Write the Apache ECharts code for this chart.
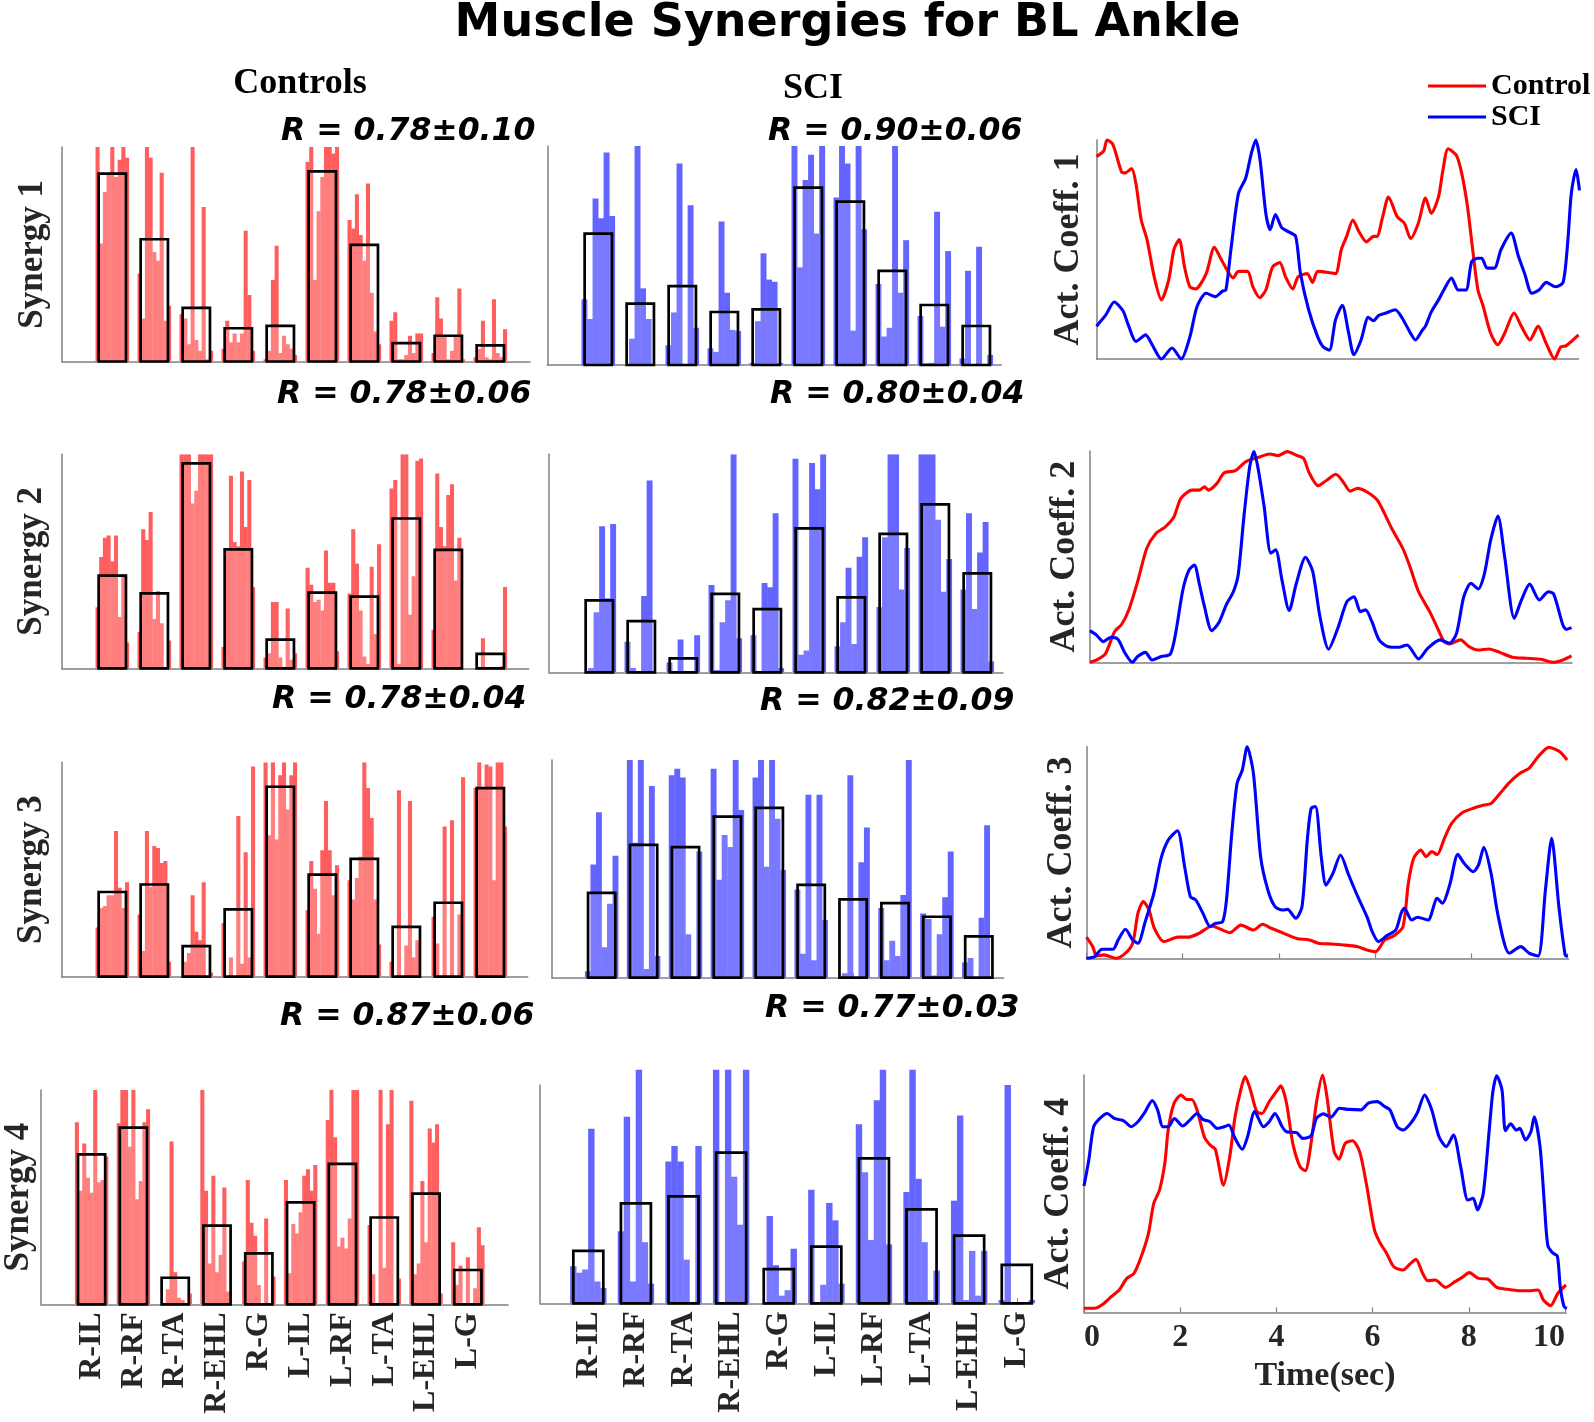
<!DOCTYPE html>
<html><head><meta charset="utf-8">
<script src="https://cdn.jsdelivr.net/npm/echarts@6/dist/echarts.min.js"></script>
<style>html,body{margin:0;padding:0;background:#fff}#c{width:1594px;height:1422px}</style>
</head><body><div id="c"></div>
<script>
// ---------------- DATA ----------------
const muscles = ['R-IL','R-RF','R-TA','R-EHL','R-G','L-IL','L-RF','L-TA','L-EHL','L-G'];
const timeTicks = [0,2,4,6,8,10];

// Synergy weights: per muscle, one value per subject (Controls: 9 subjects, SCI: 6 subjects)
const ctrlSyn1 = [
 [1.0,0.55,0.79,0.88,1.0,0.86,0.94,1.0,0.95],
 [0.41,0.20,1.0,0.95,0.51,0.47,0.88,0.19,0.26],
 [0.22,0.20,0.08,1.0,0.10,0.05,0.72,0.01,0.05],
 [0.06,0.19,0.09,0.13,0.09,0.13,0.61,0.31,0.05],
 [0.01,0.05,0.38,0.54,0.04,0.12,0.08,0.06,0.03],
 [0.93,1.0,0.38,0.70,0.86,1.0,1.0,0.97,1.0],
 [0.66,0.62,0.78,0.59,0.47,0.83,0.32,0.14,0.08],
 [0.19,0.23,0.01,0.01,0.03,0.12,0.04,0.13,0.13],
 [0.04,0.30,0.20,0.12,0.01,0.05,0.12,0.34,0.01],
 [0.02,0.06,0.19,0.02,0.01,0.29,0.04,0.02,0.15]
];
const ctrlMean1 = [0.876,0.57,0.25,0.155,0.166,0.886,0.544,0.086,0.12,0.075];
const sciSyn1 = [
 [0.30,0.21,0.76,0.67,0.97,0.68],
 [0.0,0.12,1.0,0.35,0.21,0.0],
 [0.09,0.24,0.92,0.0,0.73,0.17],
 [0.076,0.06,0.655,0.33,0.16,0.155],
 [0.01,0.20,0.51,0.39,0.38,0.01],
 [1.0,0.446,0.845,0.96,0.60,1.0],
 [0.765,1.0,0.92,0.157,1.0,0.62],
 [0.37,0.13,0.17,1.0,0.33,0.57],
 [0.224,0.008,0.01,0.70,0.175,0.52],
 [0.03,0.43,0.0,0.54,0.0,0.046]
];
const sciMean1 = [0.60,0.28,0.36,0.242,0.254,0.81,0.746,0.43,0.274,0.178];

const ctrlSyn2 = [
 [0.285,0.52,0.61,0.62,0.50,0.62,0.24,0.44,0.12],
 [0.17,0.65,0.60,0.73,0.23,0.36,0.21,0.0,0.13],
 [1.0,1.0,1.0,0.77,0.83,1.0,1.0,1.0,1.0],
 [0.10,0.55,0.90,0.59,0.57,0.92,0.66,0.88,0.38],
 [0.05,0.07,0.31,0.31,0.05,0.0,0.28,0.04,0.07],
 [0.47,0.39,0.31,0.32,0.27,0.55,0.40,0.40,0.08],
 [0.35,0.65,0.49,0.27,0.055,0.02,0.475,0.16,0.58],
 [0.84,0.88,0.02,1.0,1.0,0.25,0.43,0.97,0.98],
 [0.18,0.91,0.66,0.57,0.81,0.86,0.41,0.61,0.0],
 [0.0,0.0,0.14,0.0,0.0,0.0,0.0,0.01,0.38]
];
const ctrlMean2 = [0.433,0.35,0.958,0.556,0.134,0.354,0.335,0.70,0.553,0.067];
const sciSyn2 = [
 [0.0,0.02,0.275,0.67,0.34,0.68],
 [0.14,0.02,0.0,0.35,0.88,0.0],
 [0.045,0.0,0.15,0.0,0.0,0.17],
 [0.40,0.01,0.23,0.33,1.0,0.156],
 [0.17,0.0,0.41,0.39,0.73,0.02],
 [0.98,0.08,0.10,0.96,0.84,1.0],
 [0.12,0.23,0.48,0.13,0.53,0.62],
 [0.30,0.62,1.0,1.0,0.38,0.57],
 [1.0,1.0,1.0,0.70,0.37,0.52],
 [0.38,0.73,0.29,0.55,0.69,0.05]
];
const sciMean2 = [0.33,0.235,0.064,0.36,0.29,0.66,0.344,0.635,0.77,0.454];

const ctrlSyn3 = [
 [0.23,0.32,0.33,0.38,0.38,0.68,0.415,0.32,0.44],
 [0.29,0.12,0.68,0.42,0.61,0.60,0.53,0.54,0.07],
 [0.0,0.07,0.11,0.38,0.21,0.17,0.44,0.0,0.02],
 [0.25,0.0,0.09,0.0,0.75,0.06,0.58,0.09,0.98],
 [1.0,0.66,1.0,0.64,0.94,1.0,0.78,0.94,1.0],
 [0.31,0.54,0.41,0.20,0.59,0.82,0.59,0.38,0.52],
 [0.45,0.36,0.46,0.56,1.0,0.88,0.74,0.36,0.15],
 [0.07,0.0,0.87,0.0,0.145,0.82,0.09,0.17,0.0],
 [0.28,0.155,0.0,0.70,0.0,0.73,0.0,0.29,0.93],
 [0.88,1.0,0.88,0.99,0.98,0.45,1.0,1.0,0.70]
];
const ctrlMean3 = [0.395,0.43,0.143,0.314,0.886,0.476,0.55,0.232,0.345,0.88];
const sciSyn3 = [
 [0.03,0.52,0.76,0.14,0.34,0.56],
 [1.0,0.62,1.0,0.04,0.88,0.10],
 [0.93,0.96,0.92,0.20,0.0,0.58],
 [0.96,0.45,0.655,0.60,1.0,0.77],
 [0.92,1.0,0.51,1.0,0.73,0.495],
 [0.405,0.11,0.84,0.08,0.84,0.265],
 [0.0,0.02,0.93,0.0,0.53,0.69],
 [0.32,0.08,0.17,0.10,0.38,1.0],
 [0.295,0.27,0.01,0.20,0.37,0.58],
 [0.07,0.09,0.0,0.275,0.70,0.0]
];
const sciMean3 = [0.39,0.61,0.60,0.74,0.78,0.426,0.36,0.343,0.28,0.19];

const ctrlSyn4 = [
 [0.85,0.53,0.75,0.59,0.52,1.0,0.57,0.58,0.69],
 [0.845,1.0,1.0,0.735,1.0,0.49,0.575,0.85,0.91],
 [0.0,0.0,0.07,0.76,0.15,0.03,0.02,0.0,0.05],
 [1.0,0.53,0.19,0.60,0.15,0.23,0.545,0.06,0.0],
 [0.2,0.58,0.38,0.32,0.09,0.0,0.40,0.0,0.13],
 [0.58,0.145,0.375,0.33,0.43,0.60,0.63,0.53,0.65],
 [0.86,1.0,0.78,0.27,0.31,0.26,0.40,1.0,1.0],
 [0.37,0.14,0.0,1.0,0.17,0.84,1.0,0.0,0.12],
 [0.95,0.14,0.19,0.575,0.29,0.82,0.755,0.84,0.05],
 [0.29,0.09,0.18,0.0,0.22,0.0,0.075,0.36,0.275]
];
const ctrlMean4 = [0.70,0.824,0.124,0.367,0.238,0.476,0.655,0.405,0.516,0.16];
const sciSyn4 = [
 [0.17,0.14,0.155,0.80,0.10,0.07],
 [0.33,0.855,0.10,1.07,0.28,0.09],
 [0.65,0.72,0.65,0.20,0.0,0.72],
 [1.07,0.0,1.07,0.58,0.36,1.07],
 [0.0,0.40,0.175,0.035,0.06,0.25],
 [0.52,0.0,0.085,0.46,0.38,0.09],
 [0.82,0.60,0.29,0.93,1.07,0.27],
 [0.51,1.07,0.57,0.28,0.015,0.15],
 [0.47,0.86,0.015,0.24,0.035,0.24],
 [0.015,1.0,0.0,0.0,0.0,0.015]
];
const sciMean4 = [0.24,0.458,0.49,0.69,0.157,0.26,0.664,0.43,0.31,0.176];

// Activation coefficients: [time (s), value]
const ctrlAct1 = [[0,0.924],[0.15,0.95],[0.22,1.0],[0.34,0.98],[0.52,0.855],[0.6,0.85],[0.73,0.87],[0.82,0.80],[0.93,0.635],[1.05,0.545],[1.2,0.375],[1.35,0.27],[1.5,0.36],[1.61,0.50],[1.72,0.545],[1.83,0.42],[1.94,0.33],[2.06,0.32],[2.28,0.39],[2.45,0.51],[2.58,0.46],[2.73,0.40],[2.84,0.37],[2.95,0.40],[3.14,0.40],[3.25,0.33],[3.39,0.28],[3.52,0.315],[3.66,0.42],[3.81,0.44],[3.93,0.375],[4.08,0.32],[4.19,0.375],[4.38,0.39],[4.49,0.35],[4.6,0.40],[4.82,0.395],[4.97,0.39],[5.09,0.50],[5.2,0.56],[5.33,0.635],[5.46,0.58],[5.61,0.535],[5.76,0.56],[5.83,0.56],[5.95,0.65],[6.07,0.74],[6.25,0.65],[6.4,0.62],[6.53,0.55],[6.69,0.62],[6.84,0.735],[6.96,0.665],[7.11,0.74],[7.2,0.86],[7.31,0.96],[7.48,0.93],[7.59,0.85],[7.71,0.70],[7.82,0.50],[7.93,0.315],[8.04,0.24],[8.19,0.12],[8.34,0.065],[8.49,0.12],[8.68,0.21],[8.83,0.15],[9.01,0.087],[9.18,0.15],[9.35,0.07],[9.52,0.0],[9.65,0.055],[9.76,0.06],[10.02,0.11]];
const sciAct1 = [[0,0.15],[0.19,0.20],[0.37,0.26],[0.55,0.22],[0.67,0.15],[0.82,0.08],[1.02,0.11],[1.16,0.064],[1.35,0.0],[1.57,0.05],[1.76,0.0],[1.94,0.10],[2.09,0.24],[2.28,0.30],[2.47,0.285],[2.62,0.31],[2.69,0.315],[2.8,0.51],[2.95,0.755],[3.1,0.825],[3.22,0.94],[3.31,1.0],[3.40,0.91],[3.52,0.665],[3.61,0.59],[3.72,0.66],[3.85,0.60],[4.0,0.58],[4.14,0.56],[4.24,0.39],[4.41,0.225],[4.6,0.10],[4.71,0.056],[4.84,0.04],[4.97,0.18],[5.11,0.245],[5.24,0.12],[5.35,0.02],[5.5,0.087],[5.65,0.19],[5.76,0.175],[5.87,0.20],[6.02,0.21],[6.21,0.225],[6.36,0.185],[6.51,0.125],[6.63,0.087],[6.77,0.13],[6.84,0.15],[6.96,0.215],[7.11,0.27],[7.22,0.315],[7.38,0.37],[7.52,0.315],[7.68,0.315],[7.8,0.445],[7.93,0.46],[8.01,0.46],[8.12,0.415],[8.27,0.415],[8.41,0.50],[8.62,0.575],[8.77,0.47],[8.9,0.39],[9.05,0.30],[9.2,0.315],[9.35,0.35],[9.54,0.33],[9.7,0.35],[9.8,0.545],[9.87,0.755],[9.97,0.865],[10.04,0.77]];
const ctrlAct2 = [[0,0],[0.13,0.01],[0.32,0.04],[0.51,0.145],[0.66,0.18],[0.81,0.25],[1.0,0.39],[1.18,0.54],[1.37,0.61],[1.56,0.64],[1.74,0.686],[1.89,0.776],[2.12,0.815],[2.27,0.815],[2.38,0.83],[2.46,0.815],[2.64,0.847],[2.79,0.897],[3.02,0.907],[3.24,0.95],[3.54,0.973],[3.73,0.986],[3.91,0.978],[4.1,0.997],[4.29,0.98],[4.44,0.965],[4.55,0.90],[4.74,0.836],[4.93,0.863],[5.11,0.89],[5.26,0.855],[5.41,0.81],[5.56,0.823],[5.75,0.807],[5.97,0.768],[6.12,0.705],[6.27,0.634],[6.5,0.54],[6.65,0.453],[6.83,0.334],[7.06,0.24],[7.21,0.169],[7.36,0.098],[7.47,0.087],[7.7,0.106],[7.88,0.074],[8.07,0.058],[8.29,0.063],[8.52,0.047],[8.78,0.024],[9.08,0.019],[9.38,0.014],[9.64,0.0],[9.83,0.011],[10.01,0.03]];
const sciAct2 = [[0,0.15],[0.13,0.13],[0.28,0.098],[0.43,0.118],[0.58,0.109],[0.73,0.043],[0.88,0.0],[0.99,0.027],[1.15,0.047],[1.29,0.011],[1.48,0.027],[1.67,0.039],[1.78,0.137],[1.93,0.342],[2.06,0.437],[2.17,0.46],[2.27,0.374],[2.38,0.263],[2.53,0.15],[2.68,0.188],[2.83,0.271],[2.98,0.334],[3.08,0.413],[3.2,0.69],[3.32,0.926],[3.41,0.997],[3.5,0.91],[3.62,0.737],[3.76,0.516],[3.86,0.532],[3.99,0.39],[4.14,0.245],[4.29,0.374],[4.48,0.497],[4.63,0.43],[4.78,0.216],[4.96,0.062],[5.15,0.16],[5.34,0.287],[5.49,0.31],[5.62,0.24],[5.73,0.248],[5.86,0.192],[6.01,0.106],[6.2,0.074],[6.42,0.071],[6.59,0.082],[6.83,0.016],[7.02,0.066],[7.28,0.106],[7.47,0.09],[7.62,0.137],[7.77,0.31],[7.92,0.374],[8.07,0.347],[8.2,0.42],[8.33,0.579],[8.48,0.692],[8.62,0.5],[8.82,0.208],[8.97,0.295],[9.14,0.37],[9.34,0.295],[9.53,0.334],[9.64,0.323],[9.83,0.177],[9.9,0.156],[10.01,0.164]];
const ctrlAct3 = [[0,0.10],[0.13,0.055],[0.21,0.011],[0.36,0.016],[0.62,0.0],[0.81,0.024],[0.96,0.071],[1.07,0.213],[1.18,0.268],[1.3,0.228],[1.41,0.142],[1.61,0.079],[1.9,0.10],[2.12,0.10],[2.34,0.118],[2.61,0.153],[2.79,0.137],[2.98,0.121],[3.21,0.157],[3.47,0.134],[3.66,0.161],[3.84,0.142],[4.07,0.121],[4.37,0.094],[4.63,0.087],[4.82,0.071],[5.04,0.068],[5.34,0.063],[5.64,0.055],[5.83,0.039],[6.01,0.031],[6.2,0.087],[6.39,0.106],[6.58,0.15],[6.69,0.354],[6.8,0.472],[6.95,0.512],[7.06,0.48],[7.18,0.504],[7.29,0.49],[7.44,0.567],[7.59,0.638],[7.81,0.688],[8.04,0.709],[8.26,0.724],[8.41,0.732],[8.6,0.78],[8.79,0.83],[9.01,0.874],[9.2,0.898],[9.39,0.953],[9.61,0.997],[9.84,0.976],[9.99,0.937]];
const sciAct3 = [[0,0.0],[0.17,0.008],[0.32,0.043],[0.55,0.043],[0.66,0.087],[0.81,0.137],[0.96,0.087],[1.07,0.071],[1.22,0.173],[1.4,0.307],[1.55,0.472],[1.7,0.559],[1.89,0.603],[2.04,0.433],[2.16,0.291],[2.27,0.276],[2.42,0.213],[2.57,0.15],[2.68,0.165],[2.83,0.173],[2.91,0.276],[3.02,0.59],[3.13,0.827],[3.24,0.89],[3.34,1.0],[3.47,0.874],[3.62,0.48],[3.77,0.323],[3.92,0.244],[4.07,0.228],[4.18,0.231],[4.35,0.189],[4.48,0.244],[4.59,0.559],[4.67,0.709],[4.76,0.717],[4.88,0.48],[4.98,0.346],[5.12,0.40],[5.28,0.488],[5.45,0.394],[5.64,0.291],[5.83,0.197],[5.94,0.126],[6.07,0.079],[6.24,0.106],[6.43,0.134],[6.54,0.213],[6.61,0.236],[6.76,0.181],[6.88,0.194],[7.1,0.181],[7.29,0.283],[7.4,0.26],[7.55,0.346],[7.72,0.491],[7.85,0.449],[8.04,0.409],[8.15,0.441],[8.26,0.524],[8.41,0.402],[8.56,0.197],[8.79,0.024],[9.03,0.055],[9.2,0.024],[9.39,0.011],[9.54,0.323],[9.67,0.567],[9.82,0.244],[9.95,0.016],[10.0,0.008]];
const ctrlAct4 = [[0,0.017],[0.22,0.017],[0.37,0.031],[0.55,0.063],[0.73,0.094],[0.89,0.143],[1.04,0.164],[1.19,0.235],[1.34,0.333],[1.45,0.459],[1.57,0.515],[1.68,0.628],[1.75,0.768],[1.87,0.88],[2.02,0.916],[2.13,0.897],[2.24,0.897],[2.35,0.853],[2.5,0.74],[2.62,0.705],[2.73,0.687],[2.9,0.536],[3.03,0.656],[3.14,0.824],[3.25,0.93],[3.35,0.993],[3.46,0.937],[3.59,0.846],[3.7,0.838],[3.85,0.888],[4.0,0.93],[4.09,0.954],[4.21,0.881],[4.34,0.712],[4.49,0.614],[4.6,0.597],[4.72,0.712],[4.83,0.881],[4.96,1.0],[5.05,0.909],[5.2,0.677],[5.3,0.645],[5.43,0.712],[5.58,0.723],[5.73,0.677],[5.88,0.53],[6.03,0.354],[6.14,0.298],[6.29,0.249],[6.44,0.192],[6.63,0.178],[6.78,0.204],[6.9,0.223],[7.04,0.164],[7.15,0.133],[7.3,0.136],[7.52,0.105],[7.71,0.129],[7.86,0.147],[8.01,0.167],[8.2,0.143],[8.39,0.14],[8.58,0.105],[8.8,0.097],[9.03,0.091],[9.29,0.091],[9.44,0.094],[9.55,0.052],[9.7,0.028],[9.85,0.08],[10.02,0.115]];
const sciAct4 = [[0,0.532],[0.1,0.642],[0.2,0.782],[0.33,0.817],[0.48,0.838],[0.63,0.817],[0.78,0.81],[0.85,0.803],[0.98,0.782],[1.12,0.803],[1.25,0.838],[1.42,0.892],[1.53,0.853],[1.64,0.782],[1.75,0.782],[1.88,0.817],[2.05,0.785],[2.2,0.81],[2.35,0.838],[2.47,0.813],[2.62,0.803],[2.77,0.775],[2.92,0.782],[3.01,0.789],[3.14,0.733],[3.29,0.687],[3.4,0.74],[3.55,0.846],[3.73,0.782],[3.85,0.803],[3.97,0.838],[4.12,0.782],[4.21,0.761],[4.42,0.757],[4.55,0.733],[4.72,0.743],[4.83,0.817],[4.98,0.836],[5.13,0.822],[5.31,0.86],[5.5,0.855],[5.76,0.853],[5.91,0.881],[6.1,0.888],[6.25,0.867],[6.36,0.853],[6.51,0.782],[6.63,0.768],[6.78,0.794],[6.93,0.841],[7.08,0.916],[7.23,0.853],[7.38,0.74],[7.53,0.698],[7.68,0.747],[7.83,0.614],[7.98,0.473],[8.09,0.48],[8.18,0.431],[8.3,0.501],[8.43,0.782],[8.5,0.93],[8.58,0.997],[8.69,0.937],[8.76,0.765],[8.87,0.794],[8.99,0.768],[9.06,0.775],[9.18,0.726],[9.29,0.761],[9.36,0.824],[9.48,0.698],[9.57,0.459],[9.64,0.284],[9.74,0.251],[9.84,0.237],[9.9,0.108],[9.98,0.024],[10.04,0.017]];

// Texts
const mainTitle = 'Muscle Synergies for BL Ankle';
const groupTitles = ['Controls','SCI'];
const synergyNames = ['Synergy 1','Synergy 2','Synergy 3','Synergy 4'];
const actNames = ['Act. Coeff. 1','Act. Coeff. 2','Act. Coeff. 3','Act. Coeff. 4'];
const rTexts = ['R = 0.78±0.10','R = 0.90±0.06','R = 0.78±0.06','R = 0.80±0.04','R = 0.78±0.04','R = 0.82±0.09','R = 0.87±0.06','R = 0.77±0.03'];

// ---------------- LAYOUT ----------------
const SERIF = 'Liberation Serif', SANS = 'DejaVu Sans';
const RED = '#ff0000', BLUE = '#0000ff';
const barFill = ['#ff5e5e', '#6464ff'];
const axisGray = '#808080';
const barLayout = [
 {left:62,   top:147,  width:468, height:214.5, xmin:-0.198, xmax:10.945, span:0.79, mw:0.65},
 {left:547.3,top:146,  width:454, height:219,   xmin:-0.214, xmax:10.595, span:0.79, mw:0.65},
 {left:61.7, top:454.3,width:467, height:214,   xmin:-0.205, xmax:10.914, span:0.79, mw:0.65},
 {left:549,  top:454.3,width:454, height:218,   xmin:-0.198, xmax:10.612, span:0.79, mw:0.65},
 {left:61.7, top:762.3,width:466, height:214.4, xmin:-0.205, xmax:10.89,  span:0.79, mw:0.65, ticks:false},
 {left:551.7,top:760,  width:452, height:217.7, xmin:-0.193, xmax:10.594, span:0.79, mw:0.65, ticks:true},
 {left:40,   top:1090, width:468, height:214.3, xmin:-0.21,  xmax:10.96,  span:0.79, mw:0.65, ticks:true, labels:true},
 {left:540,  top:1085, width:482, height:218.3, xmin:-0.015, xmax:10.11,  span:0.756,mw:0.63, ticks:true, labels:true}
];
const actLayout = [
 {left:1096.5, top:140,   width:482, height:219,   gap:10},
 {left:1090,   top:451,   width:482, height:211.3, gap:7},
 {left:1086.5, top:746.7, width:482, height:211.6, gap:7, ticks:true},
 {left:1084,   top:1075,  width:482, height:237.3, gap:7, ticks:true, labels:true}
];
const synGap = [12, 12, 12, 5];
const rPos = [[281,132],[768,132],[277,395],[770,395],[272,700],[760,702],[280,1017],[765,1009]];

const barSets = [
 [ctrlSyn1, ctrlMean1], [sciSyn1, sciMean1],
 [ctrlSyn2, ctrlMean2], [sciSyn2, sciMean2],
 [ctrlSyn3, ctrlMean3], [sciSyn3, sciMean3],
 [ctrlSyn4, ctrlMean4], [sciSyn4, sciMean4]
];
const actSets = [[ctrlAct1, sciAct1],[ctrlAct2, sciAct2],[ctrlAct3, sciAct3],[ctrlAct4, sciAct4]];

const grids = [], xAxes = [], yAxes = [], series = [];
const catValues = muscles.map((m, i) => i + 1);

barLayout.forEach((L, p) => {
  grids.push({left:L.left, top:L.top, width:L.width, height:L.height, containLabel:false});
  xAxes.push({
    type:'value', gridIndex:p, min:L.xmin, max:L.xmax,
    axisLine:{show:true, onZero:false, lineStyle:{color:axisGray, width:1.5}},
    axisTick:{show:!!L.ticks, inside:true, length:5, customValues:catValues, lineStyle:{color:axisGray, width:1.2}},
    axisLabel:{show:!!L.labels, customValues:catValues, rotate:90, margin:8,
      formatter: v => muscles[Math.round(v) - 1] || '',
      fontFamily:SERIF, fontWeight:'bold', fontSize:32, color:'#262626'},
    splitLine:{show:false}
  });
  const row = Math.floor(p / 2), isCtrl = p % 2 === 0;
  yAxes.push({
    type:'value', gridIndex:p, min:0, max:1,
    axisLine:{show:true, onZero:false, lineStyle:{color:axisGray, width:1.5}},
    axisTick:{show:false}, axisLabel:{show:false}, splitLine:{show:false},
    name: isCtrl ? synergyNames[row] : '', nameLocation:'middle', nameRotate:90, nameGap:synGap[row],
    nameTextStyle:{fontFamily:SERIF, fontWeight:'bold', fontSize:35, color:'#262626', lineHeight:35}
  });
  const [vals, means] = barSets[p];
  const n = vals[0].length, d = L.span / n;
  const subj = [];
  vals.forEach((g, gi) => g.forEach((v, j) => subj.push([gi + 1 - L.span / 2 + d * (j + 0.5), v])));
  const fill = barFill[isCtrl ? 0 : 1];
  series.push({
    type:'custom', xAxisIndex:p, yAxisIndex:p, data:subj, clip:p !== 7, silent:true, z:2,
    renderItem:(params, api) => {
      const x = api.value(0), v = api.value(1);
      const a = api.coord([x - d / 2, v]), b = api.coord([x + d / 2, 0]);
      return {type:'rect', shape:{x:a[0] - 0.2, y:a[1], width:b[0] - a[0] + 0.4, height:b[1] - a[1]}, style:{fill:fill}};
    }
  });
  series.push({
    type:'custom', xAxisIndex:p, yAxisIndex:p, data:means.map((v, gi) => [gi + 1, v]), clip:false, silent:true, z:3,
    renderItem:(params, api) => {
      const x = api.value(0), v = api.value(1);
      const a = api.coord([x - L.mw / 2, v]), b = api.coord([x + L.mw / 2, 0]);
      return {type:'rect', shape:{x:a[0], y:a[1], width:b[0] - a[0], height:b[1] - a[1]},
        style:{fill:isCtrl ? 'rgba(255,255,255,0.2)' : 'rgba(255,255,255,0.14)', stroke:'#000', lineWidth:2.7}};
    }
  });
});

actLayout.forEach((L, k) => {
  const gi = 8 + k;
  grids.push({left:L.left, top:L.top, width:L.width, height:L.height});
  xAxes.push({
    type:'value', gridIndex:gi, min:0, max:10.02,
    axisLine:{show:true, onZero:false, lineStyle:{color:axisGray, width:1.5}},
    axisTick:{show:!!L.ticks, inside:true, length:5, customValues:timeTicks, lineStyle:{color:axisGray, width:1.2}},
    axisLabel:{show:!!L.labels, customValues:timeTicks, margin:9, alignMinLabel:'left', alignMaxLabel:'right',
      fontFamily:SERIF, fontWeight:'bold', fontSize:32, color:'#262626'},
    splitLine:{show:false},
    name: L.labels ? 'Time(sec)' : '', nameLocation:'middle', nameGap:47,
    nameTextStyle:{fontFamily:SERIF, fontWeight:'bold', fontSize:34, color:'#262626', lineHeight:34}
  });
  yAxes.push({
    type:'value', gridIndex:gi, min:0, max:1,
    axisLine:{show:true, onZero:false, lineStyle:{color:axisGray, width:1.5}},
    axisTick:{show:false}, axisLabel:{show:false}, splitLine:{show:false},
    name:actNames[k], nameLocation:'middle', nameRotate:90, nameGap:L.gap,
    nameTextStyle:{fontFamily:SERIF, fontWeight:'bold', fontSize:36, color:'#262626', lineHeight:36}
  });
  const [c, s] = actSets[k];
  [[c, 'Control', RED], [s, 'SCI', BLUE]].forEach(([data, name, col]) => {
    series.push({
      type:'line', name:name, xAxisIndex:gi, yAxisIndex:gi, data:data, symbol:'none', showSymbol:false,
      smooth:0.25, clip:false, silent:true, z:3,
      lineStyle:{color:col, width:3.1}, itemStyle:{color:col}
    });
  });
});

const titles = [
  {text:mainTitle, left:847.5, top:1, textAlign:'center',
   textStyle:{fontFamily:SANS, fontWeight:'bold', fontSize:46, lineHeight:46, color:'#000'}},
  {text:groupTitles[0], left:300, top:66, textAlign:'center',
   textStyle:{fontFamily:SERIF, fontWeight:'bold', fontSize:36, lineHeight:36, color:'#000'}},
  {text:groupTitles[1], left:813, top:71, textAlign:'center',
   textStyle:{fontFamily:SERIF, fontWeight:'bold', fontSize:36, lineHeight:36, color:'#000'}}
];
rTexts.forEach((t, i) => titles.push({
  text:t, left:rPos[i][0], top:rPos[i][1] - 16,
  textStyle:{fontFamily:SANS, fontWeight:'bold', fontStyle:'italic', fontSize:31.5, lineHeight:32, color:'#000'}
}));
titles.forEach(t => { t.padding = 0; });

const option = {
  animation:false,
  backgroundColor:'#ffffff',
  title:titles,
  legend:{
    data:['Control','SCI'], orient:'vertical', left:1428, top:71, padding:0,
    icon:'rect', itemWidth:58, itemHeight:3, itemGap:1, selectedMode:false,
    textStyle:{fontFamily:SERIF, fontWeight:'bold', fontSize:30, lineHeight:28, color:'#000'}
  },
  grid:grids, xAxis:xAxes, yAxis:yAxes, series:series
};
const chart = echarts.init(document.getElementById('c'));
chart.setOption(option);
</script></body></html>
